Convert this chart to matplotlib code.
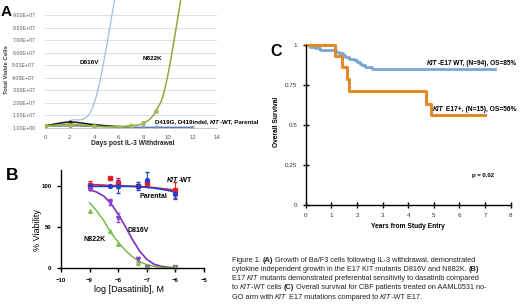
import numpy as np
import matplotlib
matplotlib.use("Agg")
import matplotlib.pyplot as plt

# -----------------------------------------------------------------
# Painel A - crescimento apos retirada de IL-3 (celulas viaveis)
# -----------------------------------------------------------------
d816v_days = [0, 2, 4, 6]
d816v_cells = [1.5e6, 5.5e6, 1.95e7, 1.2e8]
n822k_days = [0, 2, 4, 6, 7, 8, 9, 10, 12]
n822k_cells = [1.5e6, 2.5e6, 1.2e6, 0.8e6, 1.5e6, 3.5e6, 1.3e7, 4.2e7, 1.6e8]
parental_days = [0, 2, 4, 6]
parental_cells = [1.5e6, 4.5e6, 2.4e6, 0.8e6]
kitwt_days = [0, 2, 4, 6, 7]
kitwt_cells = [1.2e6, 2.8e6, 1.5e6, 0.8e6, 1.8e6]
d419_days = [0, 2, 4, 6, 8, 9, 12]
d419_cells = [1.2e6, 1.5e6, 1.0e6, 0.4e6, 0.3e6, 0.3e6, 0.3e6]
a_yticks = [0, 1e7, 2e7, 3e7, 4e7, 5e7, 6e7, 7e7, 8e7, 9e7]
a_yticklabels = ['1.00E+00', '1.00E+07', '2.00E+07', '3.00E+07', '4.00E+07',
                 '5.00E+07', '6.00E+07', '7.00E+07', '8.00E+07', '9.00E+07']
a_xticks = [0, 2, 4, 6, 8, 10, 12, 14]

# -----------------------------------------------------------------
# Painel B - viabilidade x dasatinib
# -----------------------------------------------------------------
log_dasa = [-9, -8.3, -8, -7.3, -7, -6]
kitwt_via = [102, 110, 104, 100, 104, 95]
kitwt_err = [4, 0, 6, 2, 3, 10]
parental_via = [100, 100, 100, 100, 108, 91]
parental_err = [3, 1, 8, 5, 9, 5]
d816v_via = [97, 81, 62, 11, 2, 1]
d816v_err = [2, 4, 5, 3, 1, 1]
n822k_via = [70, 45, 30, 7, 2, 1]
n822k_err = [1, 1, 1, 1, 1, 1]
# curvas ajustadas
fit_x = [-9, -8.75, -8.5, -8.25, -8, -7.75, -7.5, -7.25, -7, -6.75, -6.5, -6.25, -6]
kitwt_fit = [102, 102, 101.5, 101, 101, 100.5, 100, 100, 99, 98.5, 97.5, 96.5, 95]
parental_fit = [100, 100, 100, 100, 100, 100, 100, 99.5, 99, 98, 96.5, 95, 93]
d816v_fit = [96, 93, 88, 79, 66, 51, 35, 21, 11, 5, 2.5, 1.2, 0.6]
n822k_fit = [80, 70, 58, 43, 32, 22, 14, 8, 4.5, 2.5, 1.3, 0.7, 0.3]

# -----------------------------------------------------------------
# Painel C - Kaplan-Meier
# -----------------------------------------------------------------
wt_t = [0, 0.15, 0.35, 0.55, 1.2, 1.3, 1.45, 1.55, 1.7, 1.9, 2.0, 2.1, 2.2, 2.3, 2.6, 7.4]
wt_s = [1.0, 0.989, 0.979, 0.968, 0.957, 0.947, 0.936, 0.926, 0.915, 0.904,
        0.894, 0.883, 0.872, 0.862, 0.851, 0.851]
e17_t = [0, 1.15, 1.4, 1.6, 1.7, 4.7, 4.9, 7.0]
e17_s = [1.0, 0.93, 0.86, 0.79, 0.71, 0.63, 0.56, 0.56]

W, H = 520, 308
fig = plt.figure(figsize=(W / 100, H / 100), dpi=100)
FONT = 'Liberation Sans'
CAP = 'Liberation Sans'


def rect(x0, y0, x1, y1):
    # pixels (origem no topo) -> fracao da figura
    return [x0 / W, 1 - y1 / H, (x1 - x0) / W, (y1 - y0) / H]


def smooth(xs, ys, n=24):
    # linha suavizada estilo Excel (Catmull-Rom)
    x = np.asarray(xs, float)
    y = np.asarray(ys, float)
    px = np.concatenate([[2 * x[0] - x[1]], x, [2 * x[-1] - x[-2]]])
    py = np.concatenate([[2 * y[0] - y[1]], y, [2 * y[-1] - y[-2]]])
    ox, oy = [], []
    for i in range(1, len(px) - 2):
        t = np.linspace(0, 1, n)
        for arr, out in ((px, ox), (py, oy)):
            p0, p1, p2, p3 = arr[i - 1], arr[i], arr[i + 1], arr[i + 2]
            out.extend(0.5 * ((2 * p1) + (-p0 + p2) * t +
                              (2 * p0 - 5 * p1 + 4 * p2 - p3) * t ** 2 +
                              (-p0 + 3 * p1 - 3 * p2 + p3) * t ** 3))
    return ox, oy


# ---------------- Painel A ----------------
axA = fig.add_axes(rect(45, 0, 217, 127.7))
axA.set_xlim(0, 14)
axA.set_ylim(0, 1.02e8)
for s in ['top', 'right', 'left']:
    axA.spines[s].set_visible(False)
axA.spines['bottom'].set_color('#bfbfbf')
axA.spines['bottom'].set_linewidth(0.6)
axA.set_yticks(a_yticks)
axA.set_yticklabels(a_yticklabels)
axA.set_xticks(a_xticks)
axA.tick_params(length=0, labelsize=3.8, labelcolor='#595959', pad=7)
axA.tick_params(axis='x', labelsize=4.3, pad=5)
for lab in axA.get_xticklabels() + axA.get_yticklabels():
    lab.set_family(FONT)
axA.grid(axis='y', color='#d9d9d9', lw=0.6)
axA.set_axisbelow(True)

axA.plot(*smooth(d816v_days, d816v_cells), color='#a4bde0', lw=0.9)
axA.plot(*smooth(d419_days, d419_cells), color='#5a7ab5', lw=1.0)
axA.plot(d419_days, d419_cells, 's', color='#7f95c2', ms=2)
axA.plot(*smooth(kitwt_days, kitwt_cells), color='#cfdc5b', lw=1.2)
axA.plot(kitwt_days, kitwt_cells, 'o', color='#b5c657', ms=2)
axA.plot(*smooth(parental_days, parental_cells), color='#1a1a1a', lw=1.1)
axA.plot(parental_days, parental_cells, 'D', color='#1a1a1a', ms=1.5)
axA.plot(*smooth(n822k_days, n822k_cells), color='#8ea83e', lw=1.1)
axA.plot(n822k_days[:7], n822k_cells[:7], 'o', color='#a3b85e', ms=2.5)

# ---------------- Painel B ----------------
axB = fig.add_axes(rect(61, 170, 204, 268.3))
axB.set_xlim(-10, -5)
axB.set_ylim(0, 120)
axB.spines['top'].set_visible(False)
axB.spines['right'].set_visible(False)
for s in ['left', 'bottom']:
    axB.spines[s].set_linewidth(1.0)
axB.set_xticks(range(-10, -4))
axB.set_yticks([0, 50, 100])
axB.tick_params(length=3, width=1.0, labelsize=4.3, pad=4)
for lab in axB.get_xticklabels() + axB.get_yticklabels():
    lab.set_family(FONT)
    lab.set_weight('bold')

axB.plot(fit_x, kitwt_fit, color='#e0202a', lw=1.2, clip_on=False)
axB.plot(fit_x, parental_fit, color='#2040d0', lw=1.2, clip_on=False)
axB.plot(fit_x, d816v_fit, color='#7a2fc0', lw=1.2, clip_on=False)
axB.plot(fit_x, n822k_fit, color='#6cb83a', lw=1.0, clip_on=False)
axB.errorbar(log_dasa, kitwt_via, yerr=kitwt_err, fmt='s', color='#e0202a', ms=2.8,
             capsize=1.5, elinewidth=0.8, clip_on=False)
axB.errorbar(log_dasa, parental_via, yerr=parental_err, fmt='o', color='#2040d0', ms=2.8,
             capsize=1.5, elinewidth=0.8, clip_on=False)
axB.errorbar(log_dasa, d816v_via, yerr=d816v_err, fmt='v', color='#8a3fd0', ms=2.8,
             capsize=1.5, elinewidth=0.8, clip_on=False)
axB.errorbar(log_dasa, n822k_via, yerr=n822k_err, fmt='^', color='#7cc24a', ms=2.6,
             capsize=1.0, elinewidth=0.6, clip_on=False)

# ---------------- Painel C ----------------
axC = fig.add_axes(rect(305.7, 45, 510.7, 205))
axC.set_xlim(0, 8)
axC.set_ylim(0, 1)
axC.spines['top'].set_visible(False)
axC.spines['right'].set_visible(False)
for s in ['left', 'bottom']:
    axC.spines[s].set_linewidth(1.0)
axC.set_xticks(range(0, 9))
axC.set_yticks([0, 0.25, 0.5, 0.75, 1])
axC.set_yticklabels(['0', '0.25', '0.5', '0.75', '1'])
axC.tick_params(direction='inout', length=4, width=1.0, labelsize=4.5,
                labelcolor='#333333', pad=4)
for lab in axC.get_xticklabels() + axC.get_yticklabels():
    lab.set_family(FONT)
axC.step(wt_t, wt_s, where='post', color='#7aa6d8', lw=2.0, clip_on=False)
axC.step(e17_t, e17_s, where='post', color='#e08a2c', lw=2.2, clip_on=False)

# ---------------- textos (em pixels) ----------------
ov = fig.add_axes([0, 0, 1, 1])
ov.set_xlim(0, W)
ov.set_ylim(H, 0)
ov.axis('off')


def rich(x, y, parts, size, family=FONT, color='black', weight='normal'):
    prev = None
    for part in parts:
        s, style = part[0], part[1]
        w = 'bold' if style in ('b', 'bi') else weight
        st = 'italic' if style in ('i', 'bi') else 'normal'
        kw = dict(fontsize=size, family=family, weight=w, style=st, color=color)
        if prev is None:
            prev = ov.text(x, y, s, ha='left', va='center', **kw)
        else:
            prev = ov.annotate(s, xy=(1, 0), xycoords=prev, ha='left', va='bottom', **kw)
    return prev


# letras dos paineis
ov.text(1, 12, 'A', fontsize=11, weight='bold', family=FONT, ha='left', va='center')
ov.text(6, 175, 'B', fontsize=12.5, weight='bold', family=FONT, ha='left', va='center')
ov.text(270, 52, 'C', fontsize=11.5, weight='bold', family=FONT, ha='left', va='center')

# textos do painel A
ov.text(7, 70, 'Total Viable Cells', rotation=90, fontsize=4.3, weight='bold',
        family=FONT, color='#404040', ha='center', va='center')
ov.text(133, 143.5, 'Days post IL-3 Withdrawal', fontsize=4.8, weight='bold',
        family=FONT, color='#262626', ha='center', va='center')
ov.text(80, 62, 'D816V', fontsize=4.6, weight='bold', family=FONT, ha='left', va='center')
ov.text(143, 58, 'N822K', fontsize=4.6, weight='bold', family=FONT, ha='left', va='center')
rich(155, 122, [('D419G, D419indel, ', 'n'), ('KIT', 'i'), ('-WT, Parental', 'n')],
     4.4, weight='bold')

# textos do painel B
ov.text(38, 230, '% Viability', rotation=90, fontsize=6.5, family=FONT,
        ha='center', va='center')
ov.text(129, 289, 'log [Dasatinib], M', fontsize=6.5, family=FONT,
        ha='center', va='center')
rich(167, 180, [('KIT', 'i'), ('-WT', 'n')], 5.0, weight='bold')
ov.text(140, 197, 'Parental', fontsize=5.0, weight='bold', family=FONT, ha='left', va='center')
ov.text(128, 230, 'D816V', fontsize=5.0, weight='bold', family=FONT, ha='left', va='center')
ov.text(83, 239.5, 'N822K', fontsize=5.0, weight='bold', family=FONT, ha='left', va='center')

# textos do painel C
ov.text(277, 122, 'Overall Survival', rotation=90, fontsize=4.8, weight='bold',
        family=FONT, ha='center', va='center')
ov.text(408, 226.5, 'Years from Study Entry', fontsize=4.8, weight='bold',
        family=FONT, ha='center', va='center')
rich(427, 63.5, [('KIT', 'i'), ('-E17 WT, (N=94), OS=85%', 'n')], 4.7, weight='bold')
rich(433, 109.5, [('KIT', 'i'), (' E17+, (N=15), OS=56%', 'n')], 4.8, weight='bold')
ov.text(472, 175, 'p = 0.02', fontsize=4.3, weight='bold', family=FONT, ha='left', va='center')

# legenda da figura
caption = [
    [('Figure 1. ', 'n'), ('(A)', 'b'), (' Growth of Ba/F3 cells following IL-3 withdrawal, demonstrated', 'n')],
    [('cytokine independent growth in the E17 KIT mutants D816V and N882K. ', 'n'), ('(B)', 'b')],
    [('E17 ', 'n'), ('KIT', 'i'), (' mutants demonstrated preferential sensitivity to dasatinib compared', 'n')],
    [('to ', 'n'), ('KIT', 'i'), ('-WT cells ', 'n'), ('(C)', 'b'),
     (' Overall survival for CBF patients treated on AAML0531 no-', 'n')],
    [('GO arm with ', 'n'), ('KIT', 'i'), (' E17 mutations compared to ', 'n'), ('KIT', 'i'), ('-WT E17.', 'n')],
]
for k, line in enumerate(caption):
    rich(232, 260 + 9.3 * k, line, 5.35, family=CAP, color='#222222')

fig.savefig('out.png', dpi=100)
